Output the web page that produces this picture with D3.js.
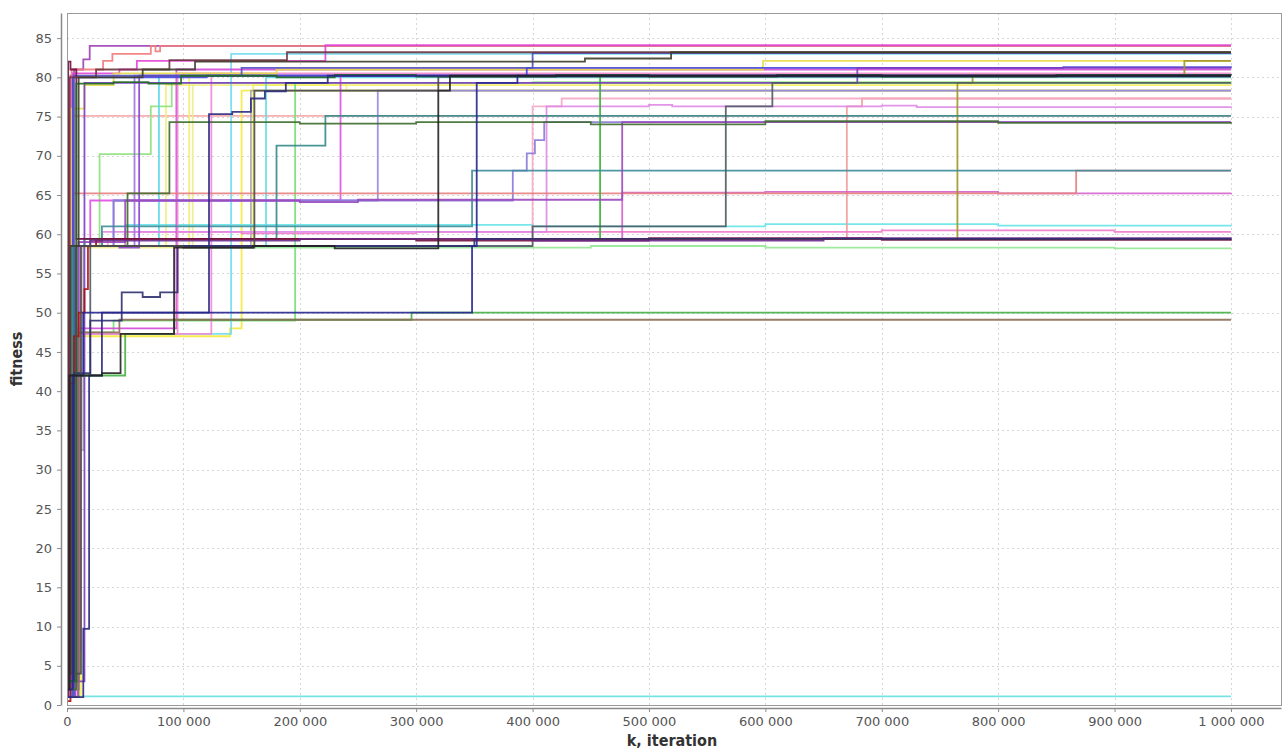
<!DOCTYPE html>
<html>
<head>
<meta charset="utf-8">
<script src="https://cdn.jsdelivr.net/npm/d3@7"></script>
<style>
  body { margin: 0; background: #fff; }
</style>
</head>
<body>
<div id="chart"></div>
<script>
// Runs: [iteration in thousands, fitness], step after each point
const run01 = [[0,3],[1,47],[3,80.2],[6,81],[14,82.3],[19.5,84],[1000,84]];
const run02 = [[0,5],[2,58.5],[4,81],[31,82.1],[39,83],[72,84],[76,83.3],[80,84],[1000,84]];
const run03 = [[0,2],[3,58.2],[5,80.5],[45,81],[60,82.1],[222,84.1],[1000,84.1]];
const run04 = [[0,10],[2,80],[25,81],[88,82.2],[189,83.2],[1000,83.2]];
const run05 = [[0,1],[6,80.2],[150,81.2],[400,83.1],[1000,83.1]];
const run06 = [[0,4],[3,58.5],[10,80],[65,81],[110,82],[445,82.4],[519,83.2],[1000,83.2]];
const run07 = [[0,8],[4,76],[15,79],[40,80.5],[180,81],[598,82.1],[1000,82.1]];
const run08 = [[0,2],[8,58.5],[30,59.4],[765,79.3],[778,80.2],[960,82.1],[1000,82.1]];
const run09 = [[0,1],[5,80],[120,80.2],[395,81.2],[856,81.3],[1000,81.2]];
const run10 = [[0,3],[15,79.3],[300,79.3],[679,81.2],[1000,81.2]];
const run11 = [[0,3],[8,79.2],[40,79.4],[70,79.2],[98,80.2],[180,80],[230,80.3],[300,80.1],[420,80.3],[500,80.1],[610,80.3],[700,80.1],[850,80.3],[1000,80.2]];
const run12 = [[0,2],[6,58.5],[20,59.4],[458,80.2],[1000,80.2]];
const run13 = [[0,4],[5,58.5],[28,70.2],[72,76.3],[90,79.3],[400,79.4],[1000,79.3]];
const run14 = [[0,2],[3,42],[20,58.5],[400,61],[566,76.3],[606,79.3],[1000,79.3]];
const run15 = [[0,6],[8,58.5],[25,59.4],[670,76.3],[683,77.3],[1000,77.3]];
const run16 = [[0,4],[10,59],[30,60.3],[412,76.3],[500,76.5],[520,76.3],[700,76.4],[730,76.2],[1000,76.3]];
const run17 = [[0,7],[12,58.5],[35,59.4],[400,76.3],[425,77.3],[1000,77.3]];
const run18 = [[0,3],[5,58.5],[15,59.4],[180,71.3],[222,75.1],[1000,75.1]];
const run19 = [[0,2],[8,58.5],[52,65.2],[88,74.3],[200,74.1],[300,74.3],[450,74],[600,74.4],[800,74.2],[1000,74.3]];
const run20 = [[0,2],[5,58.5],[40,64.3],[383,68.1],[395,70.3],[402,72],[410,74.3],[1000,74.3]];
const run21 = [[0,3],[10,59],[50,64.3],[200,64.1],[250,64.4],[477,74.3],[1000,74.3]];
const run22 = [[0,5],[4,58.5],[30,61],[348,68.1],[1000,68.1]];
const run23 = [[0,1],[3,58.5],[5,65.2],[867,68.1],[1000,68.1]];
const run24 = [[0,2],[8,59.4],[477,65.3],[600,65.4],[800,65.2],[1000,65.3]];
const run25 = [[0,3],[6,58.5],[50,61.2],[400,61],[600,61.3],[800,61.1],[1000,61.2]];
const run26 = [[0,3],[8,58.5],[50,60.3],[150,60.1],[300,60.3],[700,60.5],[900,60.3],[1000,60.3]];
const run27 = [[0,2],[2,42],[30,42.3],[46,47.3],[92,58.3],[160,58.5],[230,58.2],[319,78.3],[329,80.2],[1000,80.2]];
const run28 = [[0,4],[12,58.5],[100,58.3],[161,78.3],[225,78.3],[319,80.1],[1000,80.1]];
const run29 = [[0,1],[14,9.7],[19,42],[30,50],[122,75.3],[142,75.6],[158,77.3],[170,78.2],[188,79.3],[224,80.2],[1000,80.2]];
const run30 = [[0,2],[5,42],[14,50],[300,50],[348,58.5],[352,79.3],[387,80.2],[1000,80.2]];
const run31 = [[0,3],[6,42.3],[20,49],[47,52.6],[65,52],[80,52.6],[95,58.5],[300,58.5],[350,59.4],[1000,59.4]];
const run32 = [[0,2],[3,42],[50,47.3],[92,49.1],[296,50],[1000,50]];
const run33 = [[0,1],[10,47.5],[45,49.1],[1000,49.1]];
const run34 = [[0,0.5],[3,41],[6,47],[10,50],[15,53],[18,58.5],[25,59.2],[30,59.4],[1000,59.4]];
const run35 = [[0,1],[1,82],[3,81],[8,59.4],[300,59.2],[500,59.5],[700,59.3],[1000,59.4]];
const run36 = [[0,1],[4,58.5],[100,58.3],[450,58.5],[600,58.3],[900,58.2],[1000,58.2]];
const run37 = [[0,3],[8,33],[12,58.5],[85,79],[240,78.3],[1000,78.3]];
const run38 = [[0,2],[10,47],[140,48],[150,78.3],[1000,78.3]];
const run39 = [[0,2],[8,32.5],[14,58.5],[158,78.3],[1000,78.3]];
const run40 = [[0,2],[10,58.5],[40,64.3],[267,78.3],[1000,78.3]];
const run41 = [[0,3],[5,58.5],[20,64.3],[235,80.2],[1000,80.2]];
const run42 = [[0,2],[6,47.5],[40,49],[196,79.3],[1000,79.3]];
const run43 = [[0,3],[5,42],[12,47.3],[141,83],[1000,83]];
const run44 = [[0,1.1],[1000,1.1]];
const run45 = [[0,2],[2,75.1],[1000,75.1]];
const run46 = [[0,1],[3,42],[8,58.5],[20,59.2],[200,59.4],[400,59.2],[650,59.5],[1000,59.4]];
const run47 = [[0,2],[6,58.5],[58,80.2],[1000,80.2]];
const run48 = [[0,2],[8,58.5],[79,80.2],[1000,80.2]];
const run49 = [[0,1],[9,48],[60,48],[94,81],[1000,81]];
const run50 = [[0,3],[12,58.3],[108,79.3],[1000,79.3]];
const run51 = [[0,2],[10,47.3],[124,80.2],[1000,80.2]];
const run52 = [[0,1],[7,58.5],[45,58.3],[62,80.2],[1000,80.2]];
const run53 = [[0,2],[8,58.5],[105,80.2],[1000,80.2]];
const run54 = [[0,3],[6,47.3],[95,80.5],[1000,80.5]];
const run55 = [[0,2],[8,58.5],[171,80],[1000,80]];
const run56 = [[0,1],[12,58.5],[160,79],[1000,79]];

// light runs first, dark ones on top
const runs = [
  run45, run44, run36, run37, run38, run50, run53, run56, run39, run42, run13, run25, run43, run48, run55,
  run15, run17, run26, run16, run47, run49, run51, run54, run41, run24, run40, run20, run23,
  run01, run02, run03, run07, run12, run52, run09, run10, run05, run08, run18, run22,
  run21, run19, run14, run32, run33, run34, run35, run46, run31, run11, run28, run04,
  run06, run29, run30, run27
];
const runColors = [
  "#f6a6a6", "#66e0e0", "#94e894", "#f2f07e", "#f4ea3c", "#f0ec90", "#f0f070", "#f4f060", "#aaaaaa", "#74e074", "#8ee07e", "#66e4e8", "#70dcf0", "#5ad8e8", "#60dce8",
  "#f29a9a", "#f5a8c8", "#f07ac8", "#df88e6", "#a070e8", "#d048d8", "#f088d8", "#f08ad0", "#e050e0", "#d462cc", "#9a8ae0", "#8a7ad8", "#e57e7e",
  "#9b3fb5", "#f07a7a", "#e145d5", "#e6dc48", "#34b434", "#8c44d0", "#4646dc", "#7c3cc4", "#5050c0", "#9e9622", "#338a8a", "#3d8c9a",
  "#9a48bb", "#3d6b2d", "#4f5a64", "#44b044", "#8c6e56", "#b01010", "#701040", "#6a2a8a", "#303070", "#1f6b1f", "#4a4a4a", "#6e3540",
  "#3e3e2a", "#2a2a82", "#262690", "#222222"
];

const xTicks = d3.range(0, 1000001, 100000);
const yTicks = d3.range(0, 86, 5);

const W = 1284, H = 751;
const plot = { left: 67, top: 13, right: 1281, bottom: 705 };

const x = d3.scaleLinear().domain([0, 1043000]).range([plot.left, plot.right]);
const y = d3.scaleLinear().domain([0, 88.2]).range([plot.bottom, plot.top]);

const fmt = d3.formatLocale({ decimal: ",", thousands: " ", grouping: [3], currency: ["", ""] }).format(",d");

const svg = d3.select("#chart").append("svg")
  .attr("width", W)
  .attr("height", H)
  .style("font-family", "'DejaVu Sans', Verdana, sans-serif");

svg.append("rect").attr("width", W).attr("height", H).attr("fill", "#fff");

// grid
const grid = svg.append("g")
  .attr("stroke", "#d6d6d6")
  .attr("stroke-width", 1)
  .attr("stroke-dasharray", "2,3");

grid.selectAll("line.gx")
  .data(xTicks.filter(d => d > 0))
  .enter().append("line")
  .attr("x1", d => Math.round(x(d)) + 0.5)
  .attr("x2", d => Math.round(x(d)) + 0.5)
  .attr("y1", plot.top)
  .attr("y2", plot.bottom);

grid.selectAll("line.gy")
  .data(yTicks.filter(d => d > 0))
  .enter().append("line")
  .attr("x1", plot.left)
  .attr("x2", plot.right)
  .attr("y1", d => Math.round(y(d)) + 0.5)
  .attr("y2", d => Math.round(y(d)) + 0.5);

// runs
svg.append("clipPath").attr("id", "clip")
  .append("rect")
  .attr("x", plot.left).attr("y", plot.top)
  .attr("width", plot.right - plot.left).attr("height", plot.bottom - plot.top);

const line = d3.line()
  .x(d => x(d[0] * 1000))
  .y(d => y(d[1]))
  .curve(d3.curveStepAfter);

svg.append("g")
  .attr("clip-path", "url(#clip)")
  .selectAll("path")
  .data(runs)
  .enter().append("path")
  .attr("d", line)
  .attr("fill", "none")
  .attr("stroke", (d, i) => runColors[i])
  .attr("stroke-width", 1.8)
  .attr("stroke-opacity", 0.9);

// plot frame
svg.append("rect")
  .attr("x", plot.left + 0.5).attr("y", plot.top + 0.5)
  .attr("width", plot.right - plot.left).attr("height", plot.bottom - plot.top)
  .attr("fill", "none")
  .attr("stroke", "#9a9a9a");

// axes
const yAxis = svg.append("g")
  .attr("transform", "translate(61,0)")
  .call(d3.axisLeft(y).tickValues(yTicks).tickSize(4).tickSizeOuter(0).tickPadding(5).tickFormat(d3.format("d")));

const xAxis = svg.append("g")
  .attr("transform", "translate(0,708)")
  .call(d3.axisBottom(x).tickValues(xTicks).tickSize(4).tickSizeOuter(0).tickPadding(5).tickFormat(fmt));

[yAxis, xAxis].forEach(g => {
  g.select(".domain").attr("stroke", "#8a8a8a").attr("stroke-width", 1.5);
  g.selectAll(".tick line").attr("stroke", "#8a8a8a");
  g.selectAll(".tick text")
    .attr("fill", "#555")
    .style("font-family", "'DejaVu Sans', Verdana, sans-serif")
    .style("font-size", "13px");
});

// axis titles
svg.append("text")
  .attr("transform", "translate(22,359) rotate(-90)")
  .attr("text-anchor", "middle")
  .style("font-family", "'DejaVu Sans Condensed', 'DejaVu Sans', sans-serif")
  .style("font-stretch", "condensed")
  .style("font-weight", "bold")
  .style("font-size", "16px")
  .attr("fill", "#333")
  .text("fitness");

svg.append("text")
  .attr("x", 672)
  .attr("y", 746)
  .attr("text-anchor", "middle")
  .style("font-family", "'DejaVu Sans Condensed', 'DejaVu Sans', sans-serif")
  .style("font-stretch", "condensed")
  .style("font-weight", "bold")
  .style("font-size", "16px")
  .attr("fill", "#333")
  .text("k, iteration");
</script>
</body>
</html>
